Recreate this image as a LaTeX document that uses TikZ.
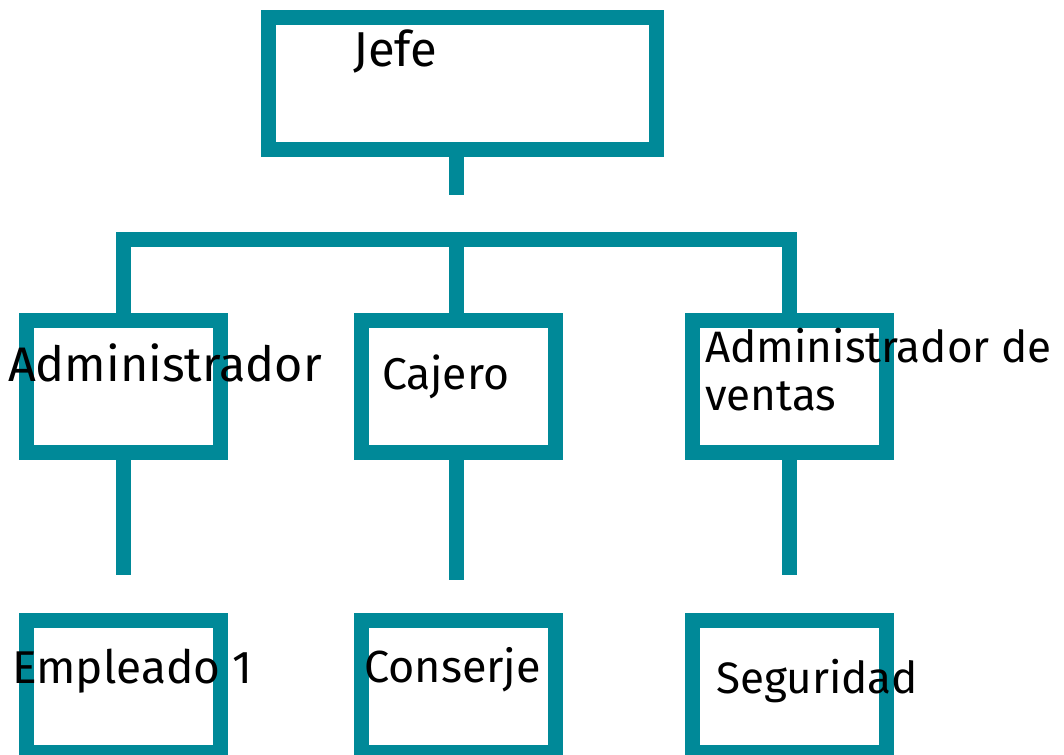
\documentclass[tikz,border=0pt]{standalone}
\usepackage{fontspec}
\setmainfont{Fira Sans}
\definecolor{orgteal}{RGB}{0,137,152}

\begin{document}
\begin{tikzpicture}[
	x = 1pt, y = -1pt,
	box/.style={draw=orgteal, line width=15pt, rectangle, inner sep=0pt,
		minimum width=194pt, minimum height=132pt},
	link/.style={orgteal, line width=15pt, line join=miter},
	txt/.style={anchor=base west, inner sep=0pt, align=left,
		font=\fontsize{#1}{48}\selectfont},
	txt/.default=46,
	]
	\useasboundingbox (0,0) rectangle (1064,754);
	\clip (0,0) rectangle (1064,754);

	% boxes
	\node (jefe) [box, minimum width=388pt] at (462.5,84) {};
	\node (admin) [box] at (123,386) {};
	\node (cajero) [box] at (458.5,386) {};
	\node (ventas) [box] at (789,386) {};
	\node (empleado) [box] at (123,686.5) {};
	\node (conserje) [box] at (458.5,686.5) {};
	\node (seguridad) [box] at (789,686.5) {};

	% free ends of the stubs
	\coordinate (bar) at (456,239.5);
	\coordinate (jefe-end) at (456,195);
	\coordinate (admin-end) at (123,575);
	\coordinate (cajero-end) at (456,580);
	\coordinate (ventas-end) at (789,575);

	\draw[link] (jefe.south -| jefe-end) -- (jefe-end);
	\draw[link] (admin.north) |- (bar) -| (ventas.north);
	\draw[link] (bar) -- (cajero.north -| bar);
	\draw[link] (admin.south) -- (admin-end);
	\draw[link] (cajero.south -| cajero-end) -- (cajero-end);
	\draw[link] (ventas.south) -- (ventas-end);

	% texts
	\node (t-jefe) [txt=49] at (353,67) {Jefe};
	\node (t-admin) [txt=48.5] at (8,381) {Administrador};
	\node (t-cajero) [txt=44.5] at (382,389) {Cajero};
	\node (t-ventas) [txt=44] at (705,410) {Administrador de\\ventas};
	\node (t-empleado) [txt] at (12,683) {Empleado 1};
	\node (t-conserje) [txt=45] at (364,682) {Conserje};
	\node (t-seguridad) [txt=44] at (716,693) {Seguridad};
\end{tikzpicture}
\end{document}
